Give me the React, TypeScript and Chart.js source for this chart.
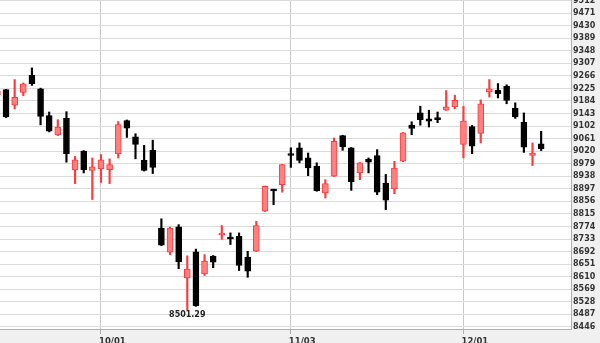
import { useEffect, useRef } from 'react';
import { Chart, registerables } from 'chart.js';

Chart.register(...registerables);

// Trading days (2014)
const dates = [
  '2014-09-15', '2014-09-16', '2014-09-17', '2014-09-18', '2014-09-19',
  '2014-09-22', '2014-09-23', '2014-09-24', '2014-09-25', '2014-09-26',
  '2014-09-29', '2014-09-30',
  '2014-10-01', '2014-10-02', '2014-10-03', '2014-10-06', '2014-10-07',
  '2014-10-08', '2014-10-09', '2014-10-13', '2014-10-14', '2014-10-15',
  '2014-10-16', '2014-10-17', '2014-10-20', '2014-10-21', '2014-10-22',
  '2014-10-23', '2014-10-24', '2014-10-27', '2014-10-28', '2014-10-29',
  '2014-10-30', '2014-10-31',
  '2014-11-03', '2014-11-04', '2014-11-05', '2014-11-06', '2014-11-07',
  '2014-11-10', '2014-11-11', '2014-11-12', '2014-11-13', '2014-11-14',
  '2014-11-17', '2014-11-18', '2014-11-19', '2014-11-20', '2014-11-21',
  '2014-11-24', '2014-11-25', '2014-11-26', '2014-11-27', '2014-11-28',
  '2014-12-01', '2014-12-02', '2014-12-03', '2014-12-04', '2014-12-05',
  '2014-12-08', '2014-12-09', '2014-12-10', '2014-12-11', '2014-12-12',
];

const open = [
  9205, 9221, 9170, 9212, 9268, 9224, 9136, 9073, 9127, 8959, 9020, 8957,
  8962, 8960, 9011, 9120, 9067, 8990, 9023, 8769, 8690, 8773, 8606, 8691,
  8619, 8677, 8746, 8736, 8742, 8674, 8693, 8824, 8895, 8911,
  9011, 9031, 8998, 8971, 8884, 8938, 9071, 9031, 8949, 8993, 9006, 8916,
  8897, 8987, 9105, 9145, 9126, 9125, 9154, 9165,
  9042, 9100, 9078, 9214, 9219, 9232, 9161, 9114, 9006, 9044,
];
const high = [
  9228, 9222, 9254, 9243, 9292, 9226, 9148, 9123, 9149, 9003, 9022, 8998,
  9009, 8995, 9117, 9122, 9077, 9039, 9056, 8799, 8772, 8780, 8678, 8700,
  8682, 8679, 8777, 8753, 8753, 8693, 8791, 8906, 8896, 8977,
  9031, 9047, 9014, 8982, 8927, 9063, 9072, 9032, 8983, 8998, 9025, 8944,
  8987, 9081, 9116, 9167, 9154, 9148, 9218, 9203,
  9167, 9104, 9188, 9254, 9241, 9237, 9178, 9145, 9047, 9085,
];
const low = [
  9195, 9130, 9158, 9201, 9235, 9106, 9083, 9071, 8984, 8914, 8949, 8862,
  8918, 8914, 8998, 9065, 8995, 8955, 8947, 8711, 8682, 8636, 8501.29, 8513,
  8614, 8639, 8732, 8715, 8630, 8608, 8692, 8823, 8845, 8886,
  8967, 8982, 8940, 8889, 8867, 8937, 9023, 8892, 8927, 8949, 8878, 8829,
  8881, 8986, 9074, 9105, 9099, 9113, 9153, 9159,
  8998, 9012, 9047, 9197, 9194, 9175, 9127, 9016, 8973, 9022,
];
const close = [
  9216, 9132, 9196, 9240, 9241, 9134, 9085, 9099, 9012, 8992, 8960, 8969,
  8992, 8976, 9107, 9095, 9042, 8957, 8967, 8713, 8769, 8658, 8635, 8515,
  8661, 8657, 8748, 8733, 8647, 8628, 8777, 8905, 8890, 8976,
  9006, 8990, 8965, 8891, 8914, 9052, 9034, 8920, 8982, 8984, 8886, 8860,
  8965, 9080, 9094, 9123, 9118, 9123, 9165, 9186,
  9118, 9036, 9175, 9224, 9208, 9186, 9132, 9033, 9014, 9028,
];

const yTickLabels = [
  8446, 8487, 8528, 8569, 8610, 8651, 8692, 8733, 8774, 8815, 8856, 8897,
  8938, 8979, 9020, 9061, 9102, 9143, 9184, 9225, 9266, 9307, 9348, 9389,
  9430, 9471, 9512,
];

const UP_FILL = '#ff8080';
const UP_LINE = '#ff3a3a';
const DOWN = '#000000';

export default function App() {
  const ref = useRef<HTMLCanvasElement>(null);

  useEffect(() => {
    document.body.style.margin = '0';
    const canvas = ref.current;
    if (!canvas) return;

    const idx = dates.map((_, i) => i);
    const isUp = idx.map((i) => close[i] >= open[i]);
    const monthStarts = idx.filter(
      (i) => i > 0 && dates[i].slice(5, 7) !== dates[i - 1].slice(5, 7)
    );

    const bgPlugin = {
      id: 'bgPlugin',
      beforeDraw(chart: any) {
        const { ctx, chartArea: a, width, height } = chart;
        ctx.save();
        ctx.fillStyle = '#eff0ef';
        ctx.fillRect(0, 0, width, height);
        ctx.fillStyle = '#ffffff';
        ctx.fillRect(a.left, a.top, a.right - a.left, a.bottom - a.top);
        ctx.restore();
      },
    };

    const lowLabelPlugin = {
      id: 'lowLabel',
      afterDatasetsDraw(chart: any) {
        let mi = 0;
        low.forEach((v, i) => {
          if (v < low[mi]) mi = i;
        });
        const x = chart.scales.x.getPixelForValue(mi);
        const y = chart.scales.y.getPixelForValue(low[mi]);
        const { ctx } = chart;
        ctx.save();
        ctx.font = 'bold 8px "DejaVu Sans"';
        ctx.textAlign = 'center';
        ctx.textBaseline = 'top';
        ctx.fillStyle = '#222222';
        ctx.fillText(low[mi].toFixed(2), x, y + 0.5);
        ctx.restore();
      },
    };

    const chart = new Chart(canvas, {
      type: 'bar',
      data: {
        datasets: [
          {
            label: 'body',
            data: idx.map((i) => ({ x: i, y: [open[i], close[i]] })) as any,
            backgroundColor: idx.map((i) => (isUp[i] ? UP_FILL : DOWN)),
            borderColor: idx.map((i) => (isUp[i] ? UP_LINE : DOWN)),
            borderWidth: 1,
            borderSkipped: false,
            barThickness: 6,
            minBarLength: 2,
            grouped: false,
            order: 0,
          } as any,
          {
            label: 'wick',
            data: idx.map((i) => ({ x: i, y: [low[i], high[i]] })) as any,
            backgroundColor: idx.map((i) => (isUp[i] ? UP_LINE : DOWN)),
            borderWidth: 0,
            barThickness: 1.5,
            grouped: false,
            order: 1,
          } as any,
        ],
      },
      options: {
        responsive: false,
        animation: false,
        devicePixelRatio: 1,
        events: [],
        layout: { padding: 0 },
        plugins: {
          legend: { display: false },
          tooltip: { enabled: false },
        },
        scales: {
          x: {
            type: 'linear',
            min: 0.3,
            max: 66.46,
            offset: false,
            afterBuildTicks: (scale: any) => {
              scale.ticks = monthStarts.map((v) => ({ value: v }));
            },
            afterFit: (scale: any) => {
              scale.height = 14;
              scale.paddingLeft = 0;
              scale.paddingRight = 0;
            },
            grid: {
              offset: false,
              color: '#c8c8c8',
              lineWidth: 1,
              drawTicks: true,
              tickLength: 5,
              tickColor: '#b0b0b0',
            },
            border: { display: true, color: '#ee82ee', width: 1 },
            ticks: {
              autoSkip: false,
              maxRotation: 0,
              minRotation: 0,
              align: 'start',
              labelOffset: -2,
              padding: 3,
              color: '#333333',
              font: { family: 'DejaVu Sans', size: 8.5, weight: 'bold' },
              callback: (value: any) => {
                const d = dates[Math.round(Number(value))];
                return d ? d.slice(5, 7) + '/' + d.slice(8, 10) : '';
              },
            },
          } as any,
          y: {
            type: 'linear',
            position: 'right',
            min: 8439,
            max: 9514,
            afterBuildTicks: (scale: any) => {
              scale.ticks = yTickLabels.map((v) => ({ value: v }));
            },
            afterFit: (scale: any) => {
              scale.width = 29;
              scale.paddingTop = 0;
              scale.paddingBottom = 0;
            },
            grid: {
              color: '#dadada',
              lineWidth: 1,
              drawTicks: false,
              tickLength: 0,
            },
            border: { display: true, color: '#ee82ee', width: 1 },
            ticks: {
              padding: 2,
              color: '#333333',
              font: { family: 'DejaVu Sans', size: 8, weight: 'bold' },
              callback: (value: any) => String(value),
            },
          } as any,
        },
      },
      plugins: [bgPlugin, lowLabelPlugin],
    });

    return () => chart.destroy();
  }, []);

  return (
    <div style={{ width: 600, height: 343 }}>
      <canvas ref={ref} width={600} height={343} style={{ display: 'block' }} />
    </div>
  );
}
